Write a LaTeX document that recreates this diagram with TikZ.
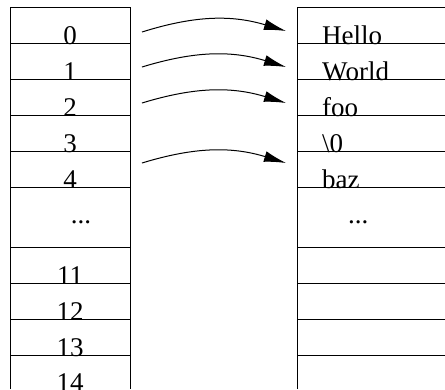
\documentclass[tikz,border=0pt]{standalone}
\usepackage{fontspec}
\setmainfont{Liberation Serif}
\usetikzlibrary{arrows.meta}
\begin{document}
\begin{tikzpicture}[x=1pt,y=-1pt,
  grid/.style={line width=1pt, black},
  lbl/.style={inner sep=0pt, font=\fontsize{27}{31}\selectfont},
  numlbl/.style={lbl, anchor=base},
  strlbl/.style={lbl, anchor=base west},
  ptr/.style={line width=1pt, -{Latex[length=22pt,width=11pt]}}]
\useasboundingbox (0,0) rectangle (445,389);
% left column
\draw[grid] (10,389) -- (10,7) -- (130,7) -- (130,389);
\foreach \y in {43,79,115,151,187,247,283,319,355}
  \draw[grid] (10,\y) -- (130,\y);
% right column
\draw[grid] (297,389) -- (297,7) -- (445,7);
\foreach \y in {43,79,115,151,187,247,283,319,355}
  \draw[grid] (297,\y) -- (445,\y);
% index labels
\node[numlbl] (i0) at (70,44) {0};
\node[numlbl] (i1) at (70,80) {1};
\node[numlbl] (i2) at (70,116) {2};
\node[numlbl] (i3) at (70,152) {3};
\node[numlbl] (i4) at (70,188) {4};
\node[numlbl] (idots) at (81,223) {...};
\node[numlbl] (i11) at (70,284) {11};
\node[numlbl] (i12) at (70,320) {12};
\node[numlbl] (i13) at (70,356) {13};
\node[numlbl] (i14) at (70,391) {14};
% string labels
\node[strlbl] (s0) at (322,44) {Hello};
\node[strlbl] (s1) at (322,80) {World};
\node[strlbl] (s2) at (322,116) {foo};
\node[strlbl] (s3) at (322,152) {\textbackslash0};
\node[strlbl] (s4) at (322,188) {baz};
\node[strlbl] (sdots) at (348,223) {...};
% arrows
\coordinate (a0) at (142,32);  \coordinate (b0) at (286,31);
\coordinate (a1) at (142,67);  \coordinate (b1) at (286,67);
\coordinate (a2) at (142,103); \coordinate (b2) at (286,103);
\coordinate (a4) at (142,163); \coordinate (b4) at (286,163);
\draw[ptr] (a0) to[bend left=17] (b0);
\draw[ptr] (a1) to[bend left=17] (b1);
\draw[ptr] (a2) to[bend left=17] (b2);
\draw[ptr] (a4) to[bend left=17] (b4);
\end{tikzpicture}
\end{document}
